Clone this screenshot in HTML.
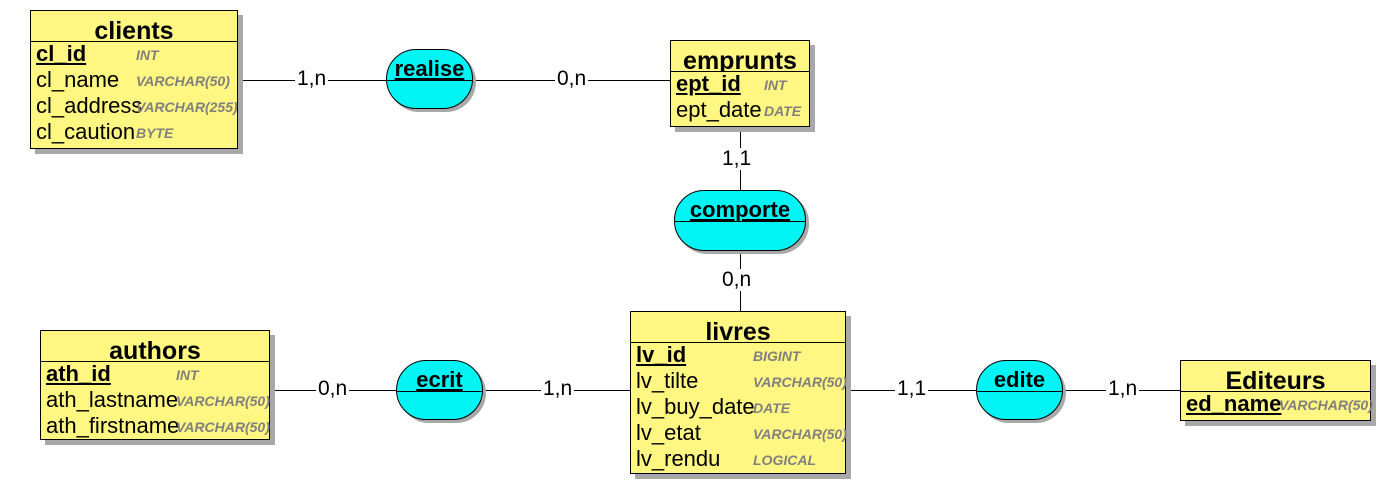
<!DOCTYPE html>
<html><head><meta charset="utf-8"><style>
body{margin:0;width:1382px;height:486px;background:#fff;position:relative;overflow:hidden;font-family:"Liberation Sans",sans-serif;}
.e{position:absolute;background:#fff781;border:1px solid #000;box-shadow:5px 5px 0 #a8a8a8;box-sizing:border-box;}
.e .h{height:30px;border-bottom:1px solid #000;text-align:center;font-weight:bold;font-size:25px;line-height:40px;overflow:hidden;}
.e .r{position:relative;height:26px;line-height:24px;font-size:22px;padding-left:5px;white-space:nowrap;}
.e .r.k span.n{font-weight:bold;text-decoration:underline;}
.e .t{position:absolute;top:1px;font-size:14px;font-weight:bold;font-style:italic;color:#808080;}
.rel{position:absolute;background:#00f4f4;border:1px solid #000;box-shadow:3px 3px 0 #a8a8a8;box-sizing:border-box;border-radius:30px/30px;overflow:hidden;}
.rel .h{height:30px;border-bottom:1px solid #000;text-align:center;font-weight:bold;font-size:22px;line-height:38px;text-decoration:underline;}
.lb{position:absolute;background:#fff;font-size:21px;padding:0 2px;line-height:22px;}
svg{position:absolute;left:0;top:0;}
</style></head><body>
<svg width="1382" height="486"><g stroke="#000" stroke-width="1">
<line x1="238" y1="80.5" x2="670" y2="80.5"/>
<line x1="740.5" y1="127" x2="740.5" y2="311"/>
<line x1="270" y1="390.5" x2="630" y2="390.5"/>
<line x1="846" y1="390.5" x2="1180" y2="390.5"/>
</g></svg>
<div class="lb" style="left:295px;top:68px">1,n</div>
<div class="lb" style="left:555px;top:68px">0,n</div>
<div class="lb" style="left:720px;top:148px">1,1</div>
<div class="lb" style="left:720px;top:269px">0,n</div>
<div class="lb" style="left:316px;top:378px">0,n</div>
<div class="lb" style="left:541px;top:378px">1,n</div>
<div class="lb" style="left:895px;top:378px">1,1</div>
<div class="lb" style="left:1106px;top:378px">1,n</div>

<div class="e" style="left:30px;top:10px;width:208px;height:139px">
<div class="h">clients</div>
<div class="r k"><span class="n">cl_id</span><span class="t" style="left:105px">INT</span></div>
<div class="r">cl_name<span class="t" style="left:105px">VARCHAR(50)</span></div>
<div class="r">cl_address<span class="t" style="left:105px">VARCHAR(255)</span></div>
<div class="r">cl_caution<span class="t" style="left:105px">BYTE</span></div>
</div>

<div class="e" style="left:670px;top:40px;width:140px;height:87px">
<div class="h">emprunts</div>
<div class="r k"><span class="n">ept_id</span><span class="t" style="left:93px">INT</span></div>
<div class="r">ept_date<span class="t" style="left:93px">DATE</span></div>
</div>

<div class="e" style="left:630px;top:311px;width:216px;height:163px">
<div class="h">livres</div>
<div class="r k"><span class="n">lv_id</span><span class="t" style="left:122px">BIGINT</span></div>
<div class="r">lv_tilte<span class="t" style="left:122px">VARCHAR(50)</span></div>
<div class="r">lv_buy_date<span class="t" style="left:122px">DATE</span></div>
<div class="r">lv_etat<span class="t" style="left:122px">VARCHAR(50)</span></div>
<div class="r">lv_rendu<span class="t" style="left:122px">LOGICAL</span></div>
</div>

<div class="e" style="left:40px;top:330px;width:230px;height:110px">
<div class="h">authors</div>
<div class="r k"><span class="n">ath_id</span><span class="t" style="left:135px">INT</span></div>
<div class="r">ath_lastname<span class="t" style="left:135px">VARCHAR(50)</span></div>
<div class="r">ath_firstname<span class="t" style="left:135px">VARCHAR(50)</span></div>
</div>

<div class="e" style="left:1180px;top:360px;width:191px;height:61px">
<div class="h">Editeurs</div>
<div class="r k"><span class="n">ed_name</span><span class="t" style="left:98px">VARCHAR(50)</span></div>
</div>

<div class="rel" style="left:386px;top:49px;width:87px;height:60px"><div class="h">realise</div></div>
<div class="rel" style="left:674px;top:190px;width:132px;height:61px"><div class="h">comporte</div></div>
<div class="rel" style="left:396px;top:360px;width:87px;height:60px"><div class="h">ecrit</div></div>
<div class="rel" style="left:976px;top:360px;width:87px;height:60px"><div class="h" style="text-decoration:none">edite</div></div>
</body></html>
